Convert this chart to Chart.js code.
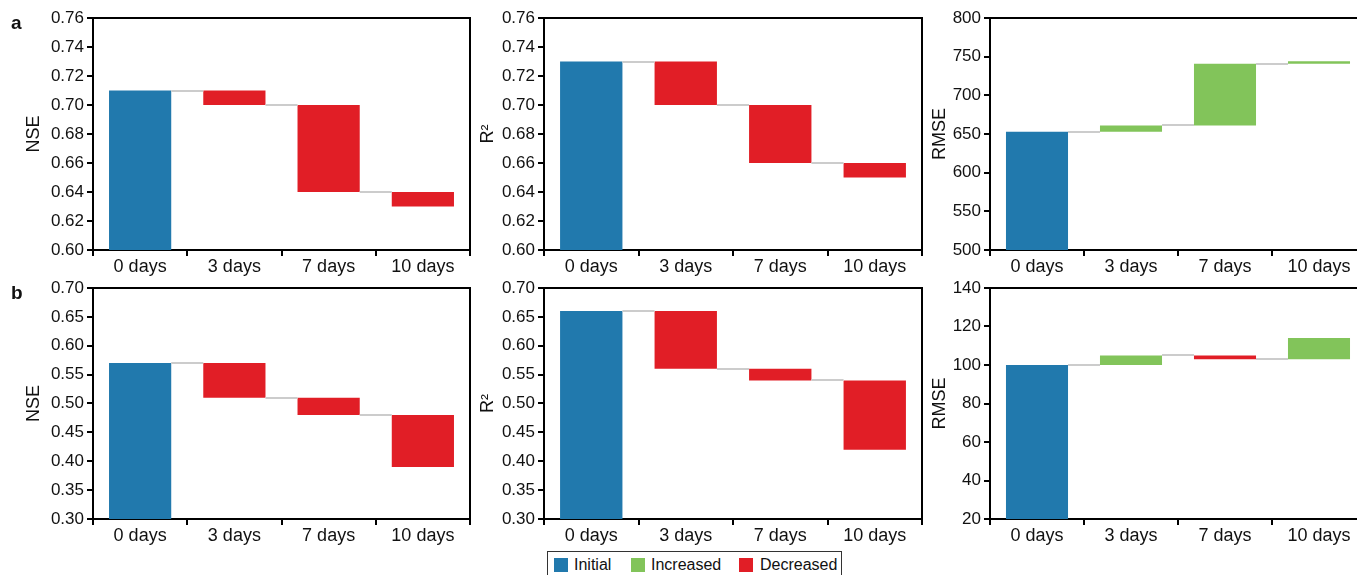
<!DOCTYPE html>
<html><head><meta charset="utf-8">
<script src="https://cdn.jsdelivr.net/npm/chart.js@4.4.1/dist/chart.umd.min.js"></script>
<style>
html,body{margin:0;padding:0;overflow:hidden;}
body{width:1357px;height:575px;position:relative;background:#fff;font-family:"Liberation Sans",Arial,sans-serif;color:#111;}
canvas{position:absolute;}
.plbl{position:absolute;font-weight:bold;font-size:19px;line-height:19px;color:#111;}
#legendBox{position:absolute;left:547px;top:551px;width:295px;height:32px;border:1.5px solid #333;box-sizing:border-box;}
.sw{position:absolute;width:14px;height:14px;top:558px;}
.lt{position:absolute;top:557px;font-size:16px;line-height:16px;color:#111;white-space:nowrap;}
</style></head><body>

<canvas id="c0"></canvas><canvas id="c1"></canvas><canvas id="c2"></canvas>
<canvas id="c3"></canvas><canvas id="c4"></canvas><canvas id="c5"></canvas>
<div class="plbl" style="left:11px;top:13px;">a</div>
<div class="plbl" style="left:11px;top:283px;">b</div>
<div id="legendBox"></div>
<div id="legend"></div>

<script>
// ---- data ----
const categories = ['0 days', '3 days', '7 days', '10 days'];
const nseA  = [0.71, 0.70, 0.64, 0.63];
const r2A   = [0.73, 0.70, 0.66, 0.65];
const rmseA = [653, 661, 741, 744];
const nseB  = [0.57, 0.51, 0.48, 0.39];
const r2B   = [0.66, 0.56, 0.54, 0.42];
const rmseB = [100, 105, 103, 114];

const ticksA  = [0.60, 0.62, 0.64, 0.66, 0.68, 0.70, 0.72, 0.74, 0.76];
const ticksRmseA = [500, 550, 600, 650, 700, 750, 800];
const ticksB  = [0.30, 0.35, 0.40, 0.45, 0.50, 0.55, 0.60, 0.65, 0.70];
const ticksRmseB = [20, 40, 60, 80, 100, 120, 140];

const legendLabels = ['Initial', 'Increased', 'Decreased'];

const COLORS = { initial: '#2179ad', up: '#82c45a', down: '#e11e26', link: '#cccccc' };
const FONT = '"Liberation Sans", Arial, sans-serif';

const waterfallPlugin = {
  id: 'waterfall',
  afterDatasetsDraw(chart, args, opts) {
    const meta = chart.getDatasetMeta(0);
    const ys = chart.scales.y;
    const vals = opts.values;
    const ctx = chart.ctx;
    ctx.save();
    ctx.strokeStyle = COLORS.link;
    ctx.lineWidth = 2;
    for (let i = 0; i < vals.length - 1; i++) {
      const a = meta.data[i], b = meta.data[i + 1];
      const py = Math.round(ys.getPixelForValue(vals[i]));
      ctx.beginPath();
      ctx.moveTo(a.x + a.width / 2, py);
      ctx.lineTo(b.x - b.width / 2, py);
      ctx.stroke();
    }
    const ca = chart.chartArea;
    ctx.strokeStyle = '#000';
    ctx.lineWidth = 2;
    ctx.beginPath();
    ctx.moveTo(ca.left, ca.top);
    ctx.lineTo(ca.right, ca.top);
    ctx.lineTo(ca.right, ca.bottom);
    ctx.stroke();
    ctx.restore();
  }
};

function makePanel(id, box, values, ticks, decimals, title, yAxisW, titlePad) {
  const cv = document.getElementById(id);
  cv.width = box.w; cv.height = box.h;
  cv.style.left = box.x + 'px'; cv.style.top = box.y + 'px';
  cv.style.width = box.w + 'px'; cv.style.height = box.h + 'px';
  const yMin = ticks[0], yMax = ticks[ticks.length - 1];
  const data = values.map((v, i) => i === 0 ? [yMin, v] : [values[i - 1], v]);
  const colors = values.map((v, i) => i === 0 ? COLORS.initial : (v > values[i - 1] ? COLORS.up : COLORS.down));
  new Chart(cv, {
    type: 'bar',
    data: {
      labels: categories,
      datasets: [{ data, backgroundColor: colors, borderWidth: 0, categoryPercentage: 1, barPercentage: 0.66 }]
    },
    options: {
      responsive: false, animation: false, devicePixelRatio: 1,
      layout: { padding: { top: box.pt, right: 2, left: 0, bottom: 0 } },
      plugins: { legend: { display: false }, tooltip: { enabled: false }, waterfall: { values } },
      scales: {
        x: {
          offset: true, z: 1,
          grid: { display: true, drawOnChartArea: false, drawTicks: true, tickLength: 6, color: '#000', lineWidth: 2, offset: true },
          border: { display: true, color: '#000', width: 2 },
          ticks: { color: '#111', font: { family: FONT, size: 18 }, padding: 0, maxRotation: 0, autoSkip: false },
          afterFit(s) { s.height = 30; }
        },
        y: {
          min: yMin, max: yMax, z: 1,
          afterBuildTicks(s) { s.ticks = ticks.map(v => ({ value: v })); },
          grid: { drawOnChartArea: false, drawTicks: true, tickLength: 6, color: '#000', lineWidth: 2 },
          border: { display: true, color: '#000', width: 2 },
          ticks: { color: '#111', font: { family: FONT, size: 17 }, padding: 3, callback: v => Number(v).toFixed(decimals) },
          title: { display: true, text: title, color: '#111', font: { family: FONT, size: 18 }, padding: { top: titlePad, bottom: 0 } },
          afterFit(s) { s.width = yAxisW; }
        }
      }
    },
    plugins: [waterfallPlugin]
  });
}

const rowA = { y: 0, h: 280, pt: 18 };
const rowB = { y: 270, h: 279, pt: 18 };
const cols = [{ x: 0, w: 472 }, { x: 472, w: 452 }, { x: 924, w: 444 }];
function box(c, r) { return { x: c.x, w: c.w, y: r.y, h: r.h, pt: r.pt }; }

makePanel('c0', box(cols[0], rowA), nseA, ticksA, 2, 'NSE', 93, 23);
makePanel('c1', box(cols[1], rowA), r2A, ticksA, 2, 'R²', 72, 5);
makePanel('c2', box(cols[2], rowA), rmseA, ticksRmseA, 0, 'RMSE', 66, 5);
makePanel('c3', box(cols[0], rowB), nseB, ticksB, 2, 'NSE', 93, 23);
makePanel('c4', box(cols[1], rowB), r2B, ticksB, 2, 'R²', 72, 5);
makePanel('c5', box(cols[2], rowB), rmseB, ticksRmseB, 0, 'RMSE', 66, 5);

// legend (HTML, real text)
const legendColors = [COLORS.initial, COLORS.up, COLORS.down];
const swX = [554, 631, 739], txX = [574, 651, 760];
const lg = document.getElementById('legend');
legendLabels.forEach((t, i) => {
  const s = document.createElement('div');
  s.className = 'sw'; s.style.left = swX[i] + 'px'; s.style.background = legendColors[i];
  lg.appendChild(s);
  const l = document.createElement('div');
  l.className = 'lt'; l.style.left = txX[i] + 'px'; l.textContent = t;
  lg.appendChild(l);
});
</script>
</body></html>
